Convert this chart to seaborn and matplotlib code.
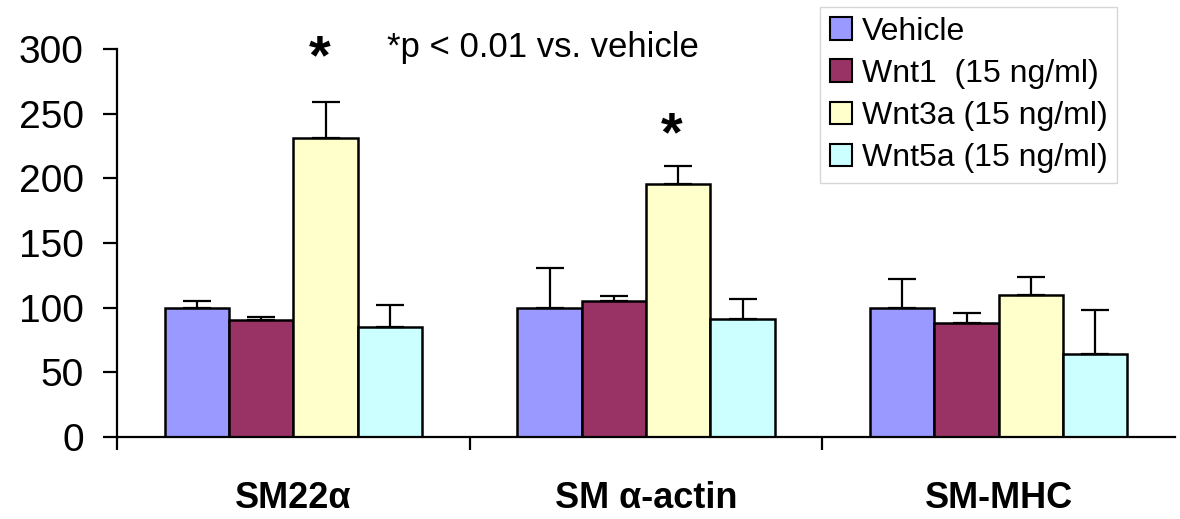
import pandas as pd
import matplotlib
matplotlib.use("Agg")
import matplotlib.pyplot as plt
import seaborn as sns
from matplotlib.ticker import FixedLocator

# data
categories = ["SM22α", "SM α-actin", "SM-MHC"]
treatments = ["Vehicle", "Wnt1  (15 ng/ml)", "Wnt3a (15 ng/ml)", "Wnt5a (15 ng/ml)"]
vehicle = [100, 100, 100]
wnt1 = [90, 105, 88]
wnt3a = [231, 196, 110]
wnt5a = [85, 91, 64]
vehicle_err = [5, 31, 22]
wnt1_err = [3, 4, 8]
wnt3a_err = [28, 14, 14]
wnt5a_err = [17, 16, 34]
colors = ["#9999FF", "#993366", "#FFFFCC", "#CCFFFF"]
yticks = [0, 50, 100, 150, 200, 250, 300]

values = [vehicle, wnt1, wnt3a, wnt5a]
errors = [vehicle_err, wnt1_err, wnt3a_err, wnt5a_err]

rows = []
for t, vals in zip(treatments, values):
    for c, v in zip(categories, vals):
        rows.append({"category": c, "treatment": t, "value": v})
df = pd.DataFrame(rows)

sns.set_style("ticks", {"axes.edgecolor": "black", "text.color": "black",
                        "xtick.color": "black", "ytick.color": "black"})
plt.rcParams['font.family'] = ['Liberation Sans', 'DejaVu Sans']

fig = plt.figure(figsize=(11.8, 5.19), dpi=100)
ax = fig.add_axes([0.0992, 0.1586, 0.8966, 0.7464])

sns.barplot(data=df, x="category", y="value", hue="treatment",
            order=categories, hue_order=treatments, palette=colors,
            width=0.73, edgecolor="black", linewidth=1.8, errorbar=None,
            saturation=1, ax=ax, legend=False)

# upper-only error bars
for cont, errs in zip(ax.containers, errors):
    xs = [b.get_x() + b.get_width() / 2 for b in cont]
    ys = [b.get_height() for b in cont]
    ax.errorbar(xs, ys, yerr=[[0] * len(errs), errs], fmt="none",
                ecolor="black", elinewidth=1.6, capsize=10, capthick=1.6)

# significance marks over Wnt3a bars
sig = ax.containers[2]
for j, off in [(0, 33), (1, 23)]:
    b = sig[j]
    ax.text(b.get_x() + b.get_width() / 2 - 0.018, b.get_height() + wnt3a_err[j] + off,
            "*", ha="center", va="center", fontsize=40, fontweight="bold")
ax.text(0.2655, 294, "*p < 0.01 vs. vehicle", fontsize=25, va="baseline")

ax.set_ylim(0, 300)
ax.set_xlim(-0.5, 2.5)
ax.set_yticks(yticks)
ax.set_xlabel("")
ax.set_ylabel("")
sns.despine(ax=ax)
ax.spines["left"].set_linewidth(1.6)
ax.spines["bottom"].set_linewidth(1.6)
ax.tick_params(axis="y", labelsize=28, length=10, width=1.6, pad=14, direction="out")
ax.tick_params(axis="x", which="major", length=0, pad=32, labelsize=26)
ax.xaxis.set_minor_locator(FixedLocator([-0.5, 0.5, 1.5]))
ax.tick_params(axis="x", which="minor", length=9, width=1.6, direction="out")
for lbl in ax.get_xticklabels():
    lbl.set_fontweight("bold")

handles = [plt.Rectangle((0, 0), 1, 1, facecolor=c, edgecolor="black", linewidth=1.5)
           for c in colors]
leg = fig.legend(handles, treatments, loc="upper left", bbox_to_anchor=(0.695, 0.9865),
                 fontsize=23, frameon=True, fancybox=False, handlelength=0.7,
                 handleheight=0.7, handletextpad=0.3, labelspacing=0.38,
                 borderpad=0.3, borderaxespad=0)
leg.get_frame().set_edgecolor("#cccccc")
leg.get_frame().set_linewidth(1.0)

plt.savefig("out.png", dpi=100)
